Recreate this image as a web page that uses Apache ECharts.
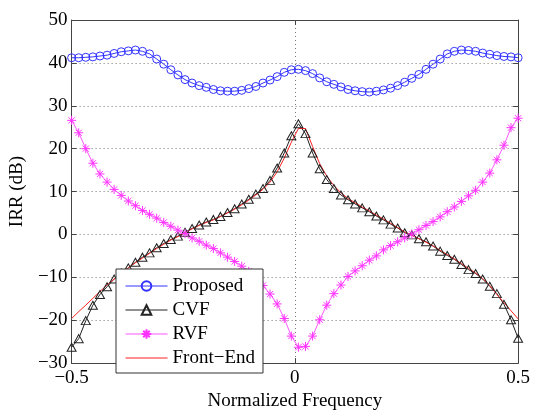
<!DOCTYPE html>
<html>
<head>
<meta charset="utf-8">
<script src="https://cdn.jsdelivr.net/npm/echarts@6/dist/echarts.min.js"></script>
<style>
html, body { margin:0; padding:0; background:#fff; }
#irr { width:533px; height:416px; }
</style>
</head>
<body>
<div id="irr"></div>
<script>
var freq = [-0.5, -0.4841, -0.4683, -0.4524, -0.4365, -0.4206, -0.4048, -0.3889, -0.3730, -0.3571,
    -0.3413, -0.3254, -0.3095, -0.2937, -0.2778, -0.2619, -0.2460, -0.2302, -0.2143, -0.1984,
    -0.1825, -0.1667, -0.1508, -0.1349, -0.1190, -0.1032, -0.0873, -0.0714, -0.0556, -0.0397,
    -0.0238, -0.0079, 0.0079, 0.0238, 0.0397, 0.0556, 0.0714, 0.0873, 0.1032, 0.1190,
    0.1349, 0.1508, 0.1667, 0.1825, 0.1984, 0.2143, 0.2302, 0.2460, 0.2619, 0.2778,
    0.2937, 0.3095, 0.3254, 0.3413, 0.3571, 0.3730, 0.3889, 0.4048, 0.4206, 0.4365,
    0.4524, 0.4683, 0.4841, 0.5];

var proposed = [41.2, 41.2, 41.3, 41.4, 41.6, 41.8, 42.2, 42.6, 42.8, 43.0,
    42.7, 42.1, 40.9, 39.7, 38.4, 37.2, 36.1, 35.3, 34.7, 34.3,
    33.8, 33.5, 33.4, 33.4, 33.6, 34.0, 34.5, 35.3, 36.0, 36.8,
    37.8, 38.4, 38.5, 38.2, 37.5, 36.5, 35.6, 35.0, 34.4, 33.8,
    33.5, 33.3, 33.2, 33.4, 33.7, 34.1, 34.7, 35.5, 36.4, 37.3,
    38.5, 39.7, 40.9, 42.1, 42.7, 43.0, 42.9, 42.7, 42.3, 42.0,
    41.7, 41.5, 41.4, 41.2];

var cvf = [-26.3, -24.3, -20.1, -16.5, -14.0, -12.2, -10.4, -9.0, -7.8, -6.5,
    -5.3, -4.3, -3.1, -2.1, -1.2, -0.4, 0.5, 1.4, 2.2, 2.9,
    3.5, 4.2, 5.1, 6.0, 7.1, 8.2, 9.4, 10.7, 12.6, 15.5,
    19.0, 23.0, 25.8, 23.5, 19.0, 15.3, 12.8, 10.7, 9.2, 8.1,
    7.1, 6.2, 5.3, 4.3, 3.4, 2.4, 1.5, 0.4, -0.1, -1.0,
    -1.7, -2.7, -3.9, -4.9, -5.8, -7.0, -8.2, -9.1, -10.4, -12.1,
    -13.8, -16.3, -19.9, -24.2];

var rvf = [26.6, 23.7, 20.0, 16.6, 14.1, 12.2, 10.5, 9.1, 7.8, 6.7,
    5.6, 4.7, 3.8, 2.8, 1.9, 1.0, 0.2, -0.8, -1.6, -2.5,
    -3.3, -4.3, -5.3, -6.3, -7.4, -8.6, -10.0, -11.9, -13.9, -16.2,
    -19.6, -23.7, -26.3, -26.1, -23.7, -19.9, -16.5, -13.8, -11.8, -9.8,
    -8.5, -7.3, -6.0, -5.0, -3.6, -2.6, -1.7, -0.8, 0.1, 1.1,
    2.1, 3.0, 4.1, 5.3, 6.4, 7.7, 9.0, 10.3, 12.2, 14.3,
    17.4, 20.8, 24.9, 27.1];

var frontEnd = [-19.6, -18.0, -16.5, -14.9, -13.3, -11.8, -10.4, -9.0, -7.8, -6.6,
    -5.5, -4.4, -3.3, -2.3, -1.3, -0.5, 0.4, 1.3, 2.1, 2.8,
    3.4, 4.2, 5.0, 5.9, 6.9, 8.0, 9.2, 10.5, 12.2, 14.6,
    17.8, 21.5, 24.7, 24.7, 20.5, 16.5, 13.6, 11.4, 9.7, 8.4,
    7.4, 6.4, 5.5, 4.5, 3.6, 2.6, 1.6, 0.6, -0.2, -1.0,
    -1.8, -2.7, -3.7, -4.7, -5.7, -6.8, -7.9, -9.0, -10.3, -11.9,
    -14.0, -15.9, -17.8, -19.7];

var xTicks = { min: -0.5, max: 0.5, step: 0.5 };
var yTicks = { min: -30, max: 50, step: 10 };

function pairs(ys) {
    return freq.map(function (f, i) { return [f, ys[i]]; });
}
function minus(v) {
    return String(v).replace('-', '\u2212');
}

var serif = 'Liberation Serif';
var star = 'path://M5,0L5,10M0,5L10,5M1.6,1.6L8.4,8.4M1.6,8.4L8.4,1.6';

var gridDots = { show: true, lineStyle: { color: '#777', type: [1, 3], width: 1 } };
var frame = { show: true, onZero: false, lineStyle: { color: '#444' } };
var ticksIn = { inside: true, length: 5, lineStyle: { color: '#444' } };
var clear = 'rgba(0,0,0,0)';

echarts.init(document.getElementById('irr')).setOption({
    animation: false,
    grid: {
        left: 71,
        right: 13,
        top: 20,
        bottom: 43
    },
    legend: {
        orient: 'vertical',
        left: 116,
        top: 269,
        width: 142,
        backgroundColor: '#fff',
        borderColor: '#333',
        borderWidth: 1,
        borderRadius: 0,
        padding: [7, 8, 5, 9],
        itemWidth: 42,
        itemHeight: 12,
        itemGap: 4,
        lineStyle: { width: 1 },
        textStyle: { fontFamily: serif, fontSize: 19, color: '#000', lineHeight: 20 },
        data: ['Proposed', 'CVF', 'RVF', 'Front\u2212End']
    },
    xAxis: [{
        type: 'value',
        min: xTicks.min,
        max: xTicks.max,
        interval: xTicks.step,
        position: 'bottom',
        name: 'Normalized Frequency',
        nameLocation: 'middle',
        nameGap: 19,
        nameTextStyle: { fontFamily: serif, fontSize: 19, color: '#000' },
        axisLine: frame,
        axisTick: ticksIn,
        axisLabel: { fontFamily: serif, fontSize: 19, color: '#000', margin: 5, formatter: minus },
        splitLine: gridDots
    }, {
        type: 'value',
        min: xTicks.min,
        max: xTicks.max,
        interval: xTicks.step,
        position: 'top',
        axisLine: frame,
        axisTick: ticksIn,
        axisLabel: { show: false },
        splitLine: { show: false }
    }],
    yAxis: [{
        type: 'value',
        min: yTicks.min,
        max: yTicks.max,
        interval: yTicks.step,
        position: 'left',
        name: 'IRR (dB)',
        nameLocation: 'middle',
        nameGap: 39,
        nameTextStyle: { fontFamily: serif, fontSize: 19, color: '#000' },
        axisLine: frame,
        axisTick: ticksIn,
        axisLabel: { fontFamily: serif, fontSize: 19, color: '#000', margin: 4, formatter: minus },
        splitLine: gridDots
    }, {
        type: 'value',
        min: yTicks.min,
        max: yTicks.max,
        interval: yTicks.step,
        position: 'right',
        axisLine: frame,
        axisTick: ticksIn,
        axisLabel: { show: false },
        splitLine: { show: false }
    }],
    series: [{
        name: 'Proposed',
        type: 'line',
        data: pairs(proposed),
        symbol: 'circle',
        symbolSize: 8,
        itemStyle: { color: clear, borderColor: '#3333ff', borderWidth: 1 },
        lineStyle: { color: '#3333ff', width: 1 }
    }, {
        name: 'CVF',
        type: 'line',
        data: pairs(cvf),
        symbol: 'triangle',
        symbolSize: [9, 8],
        itemStyle: { color: clear, borderColor: '#222', borderWidth: 1 },
        lineStyle: { color: '#222', width: 1 }
    }, {
        name: 'RVF',
        type: 'line',
        data: pairs(rvf),
        symbol: star,
        symbolSize: 9,
        itemStyle: { color: '#ff33ff', borderColor: '#ff33ff', borderWidth: 1 },
        lineStyle: { color: '#ff55ff', width: 1 }
    }, {
        name: 'Front\u2212End',
        type: 'line',
        data: pairs(frontEnd),
        symbol: 'none',
        itemStyle: { color: clear, borderColor: clear },
        lineStyle: { color: '#ff2020', width: 1 }
    }]
});
</script>
</body>
</html>
